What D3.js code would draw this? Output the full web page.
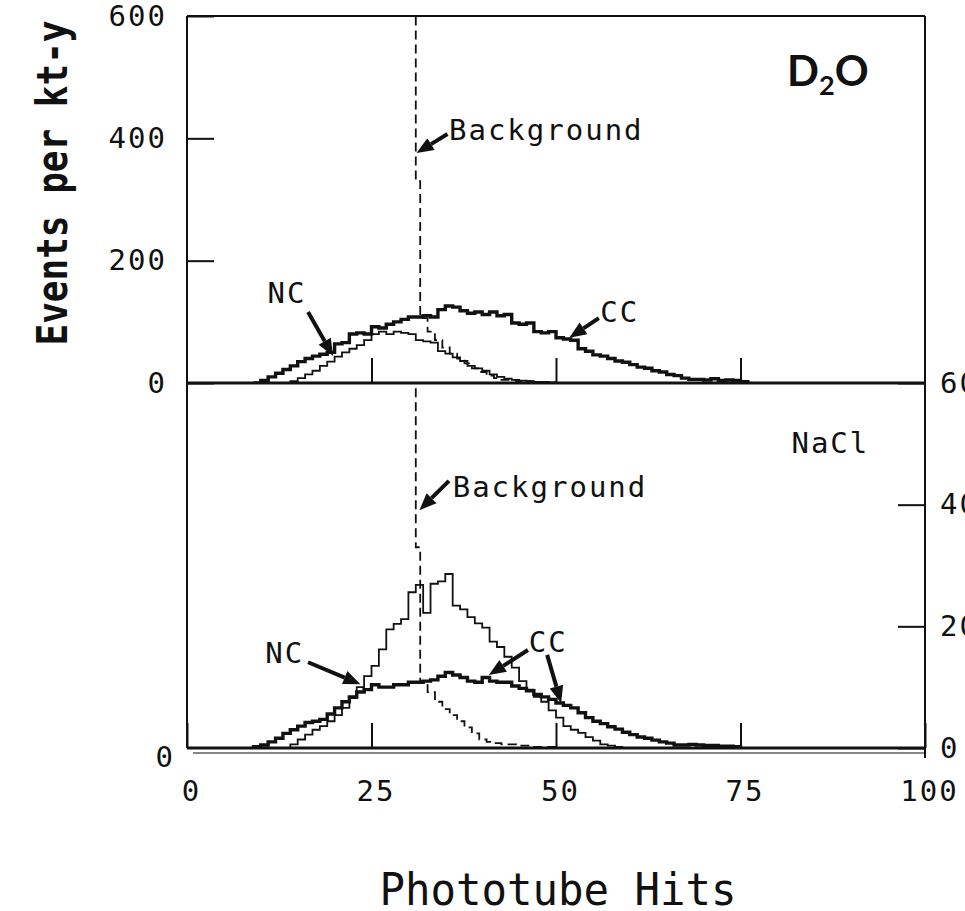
<!DOCTYPE html>
<html>
<head>
<meta charset="utf-8">
<script src="https://cdn.jsdelivr.net/npm/d3@7"></script>
<style>
  body { margin: 0; background: #fff; }
  svg { display: block; }
</style>
</head>
<body>
<script>
// Axis ticks
const hitTicks = [0, 25, 50, 75, 100];
const eventTicks = [0, 200, 400, 600];

// D2O panel: one value per phototube-hit bin, starting at the given hit
const ccTopStart = 9;
const ccTop = [0, 4, 10, 16, 22, 28, 35, 40, 44, 47, 50, 64, 66, 80, 82, 80, 92, 90, 96, 100,
  104, 108, 108, 110, 108, 120, 126, 124, 118, 114, 116, 112, 116, 110, 112, 98, 96, 98, 84, 82,
  84, 74, 72, 70, 56, 52, 46, 44, 40, 36, 34, 30, 26, 24, 20, 18, 14, 12, 8, 6,
  6, 5, 7, 4, 5, 4, 2];
const ncTopStart = 14;
const ncTop = [3, 8, 14, 20, 28, 35, 43, 50, 56, 62, 70, 80, 84, 80, 84, 82, 80, 70, 68, 66,
  52, 48, 42, 36, 28, 24, 20, 14, 10, 7, 5, 4, 3, 2, 2, 1];

// NaCl panel
const ccBotStart = 9;
const ccBot = [2, 5, 10, 16, 24, 30, 36, 42, 44, 47, 56, 66, 76, 84, 92, 96, 104, 100, 100, 104,
  104, 108, 108, 110, 112, 118, 124, 120, 116, 110, 108, 116, 110, 108, 108, 102, 98, 94, 88, 84,
  80, 74, 70, 66, 58, 50, 44, 40, 35, 31, 26, 22, 18, 16, 13, 10, 8, 5, 5, 6,
  5, 4, 4, 3, 3, 2];
const ncBotStart = 14;
const ncBot = [6, 14, 22, 30, 36, 44, 54, 66, 82, 100, 118, 135, 162, 195, 204, 212, 256, 268, 222, 270,
  274, 286, 234, 228, 215, 205, 198, 175, 166, 150, 132, 110, 96, 84, 76, 62, 50, 36, 30, 25,
  18, 12, 6, 4, 2];

// Background (dashed): bin left edges and values, off-scale below 31 hits
const bgHits = [20, 31, 31.6, 32.6, 33.6, 34.6, 35.6, 36.6, 37.6, 38.6, 39.6, 40.6, 41.6, 42.6, 44.6, 46.6];
const bgEnd = 50;
const bgTop = [2000, 330, 106, 84, 70, 58, 48, 40, 32, 24, 18, 12, 8, 5, 3, 1];
const bgBot = [2000, 330, 110, 92, 76, 64, 54, 44, 34, 24, 14, 10, 8, 6, 4, 2];

const mono = "'DejaVu Sans Mono', monospace";
const W = 965, H = 911;

const svg = d3.select("body").append("svg")
  .attr("width", W).attr("height", H);

// scales
const x = d3.scaleLinear().domain([0, 100]).range([187, 925]);
const yTop = d3.scaleLinear().domain([0, 600]).range([383, 16]);
const yBot = d3.scaleLinear().domain([0, 600]).range([748, 383]);

// clip paths for the panels
const defs = svg.append("defs");
defs.append("clipPath").attr("id", "clipTop").append("rect")
  .attr("x", x(0)).attr("y", yTop(600)).attr("width", x(100) - x(0)).attr("height", yTop(0) - yTop(600));
defs.append("clipPath").attr("id", "clipBot").append("rect")
  .attr("x", x(0)).attr("y", yBot(600)).attr("width", x(100) - x(0)).attr("height", yBot(0) - yBot(600));

function binPoints(start, vals) {
  const pts = [[start, 0]];
  vals.forEach((v, i) => pts.push([start + i, v]));
  pts.push([start + vals.length, 0]);
  return pts;
}
function edgePoints(edges, vals, end) {
  const pts = edges.map((e, i) => [e, vals[i]]);
  pts.push([end, 0]);
  return pts;
}

function drawPanel(y, clipId, cc, ccStart, nc, ncStart, bg) {
  const line = d3.line().x(d => x(d[0])).y(d => y(d[1])).curve(d3.curveStepAfter);
  const g = svg.append("g").attr("clip-path", `url(#${clipId})`);
  g.append("path").attr("d", line(edgePoints(bgHits, bg, bgEnd)))
    .attr("fill", "none").attr("stroke", "#111").attr("stroke-width", 1.8)
    .attr("stroke-dasharray", "9,5");
  g.append("path").attr("d", line(binPoints(ncStart, nc)))
    .attr("fill", "none").attr("stroke", "#111").attr("stroke-width", 1.8);
  g.append("path").attr("d", line(binPoints(ccStart, cc)))
    .attr("fill", "none").attr("stroke", "#111").attr("stroke-width", 3.4);
}

drawPanel(yTop, "clipTop", ccTop, ccTopStart, ncTop, ncTopStart, bgTop);
drawPanel(yBot, "clipBot", ccBot, ccBotStart, ncBot, ncBotStart, bgBot);

function styleAxis(g, size) {
  g.selectAll("text").attr("font-family", mono).attr("font-size", size)
    .attr("letter-spacing", 2).attr("fill", "#111");
  g.selectAll("line").attr("stroke", "#111").attr("stroke-width", 2);
  g.select(".domain").remove();
}

// top panel: left axis with inward ticks
svg.append("g").attr("transform", `translate(${x(0)},0)`)
  .call(d3.axisLeft(yTop).tickValues(eventTicks).tickSize(-27).tickPadding(20))
  .call(g => styleAxis(g, 29));

// bottom panel: right axis with inward ticks (labels run off the page, as in the scan)
svg.append("g").attr("transform", `translate(${x(100)},0)`)
  .call(d3.axisRight(yBot).tickValues(eventTicks).tickSize(-27).tickPadding(15))
  .call(g => styleAxis(g, 29));

// lone zero at bottom left
svg.append("g").attr("transform", `translate(${x(0)},9)`)
  .call(d3.axisLeft(yBot).tickValues([0]).tickSize(0).tickPadding(12))
  .call(g => styleAxis(g, 29));

// x ticks on both panels
svg.append("g").attr("transform", `translate(0,${yTop(0)})`)
  .call(d3.axisBottom(x).tickValues([25, 50, 75]).tickSize(-25).tickFormat(""))
  .call(g => styleAxis(g, 29));
svg.append("g").attr("transform", `translate(0,${yBot(0)})`)
  .call(d3.axisBottom(x).tickValues(hitTicks).tickSize(-25).tickPadding(32))
  .call(g => styleAxis(g, 29))
  .call(g => g.selectAll("text").attr("dx", 4));

// frame
const frame = svg.append("g").attr("stroke", "#111").attr("fill", "none");
frame.append("line").attr("x1", x(0)).attr("x2", x(100)).attr("y1", yTop(600)).attr("y2", yTop(600)).attr("stroke-width", 2);
frame.append("line").attr("x1", x(0)).attr("x2", x(0)).attr("y1", yTop(600)).attr("y2", yBot(0)).attr("stroke-width", 2);
frame.append("line").attr("x1", x(100)).attr("x2", x(100)).attr("y1", yTop(600)).attr("y2", yBot(0) + 10).attr("stroke-width", 2);
frame.append("line").attr("x1", x(0)).attr("x2", x(100)).attr("y1", yTop(0)).attr("y2", yTop(0)).attr("stroke-width", 3);
frame.append("line").attr("x1", x(0)).attr("x2", x(100)).attr("y1", yBot(0)).attr("y2", yBot(0)).attr("stroke-width", 3);
frame.append("line").attr("x1", x(0) + 6).attr("x2", x(100)).attr("y1", yBot(0) + 5).attr("y2", yBot(0) + 5).attr("stroke-width", 1.2);

// annotations: label text, label position, arrows (tail -> tip) in data units
const labelsTop = [
  { text: "Background", h: 35.5, v: 398 },
  { text: "NC", h: 10.9, v: 131 },
  { text: "CC", h: 56.0, v: 100 }
];
const arrowsTop = [
  { from: [35.3, 407], to: [31.1, 376] },
  { from: [16.4, 116], to: [19.8, 44] },
  { from: [55.8, 106], to: [51.8, 74] }
];
const labelsBot = [
  { text: "Background", h: 36.0, v: 413 },
  { text: "NaCl", h: 81.9, v: 485 },
  { text: "NC", h: 10.6, v: 140 },
  { text: "CC", h: 46.3, v: 158 }
];
const arrowsBot = [
  { from: [35.5, 439], to: [31.5, 391] },
  { from: [16.4, 141], to: [23.5, 105] },
  { from: [46.2, 161], to: [40.9, 120] },
  { from: [48.8, 153], to: [50.7, 74] }
];

function drawNotes(y, labels, arrows) {
  labels.forEach(d => {
    svg.append("text").attr("x", x(d.h)).attr("y", y(d.v))
      .attr("font-family", mono).attr("font-size", 29).attr("letter-spacing", 2)
      .attr("fill", "#111").text(d.text);
  });
  arrows.forEach(a => {
    const x0 = x(a.from[0]), y0 = y(a.from[1]);
    const x1 = x(a.to[0]), y1 = y(a.to[1]);
    const dx = x1 - x0, dy = y1 - y0, len = Math.hypot(dx, dy);
    const ux = dx / len, uy = dy / len;
    const hl = 17, hw = 7;
    const bx = x1 - ux * hl, by = y1 - uy * hl;
    svg.append("line").attr("x1", x0).attr("y1", y0).attr("x2", bx).attr("y2", by)
      .attr("stroke", "#111").attr("stroke-width", 4);
    svg.append("path")
      .attr("d", `M${x1},${y1}L${bx - uy * hw},${by + ux * hw}L${bx + uy * hw},${by - ux * hw}Z`)
      .attr("fill", "#111");
  });
}
drawNotes(yTop, labelsTop, arrowsTop);
drawNotes(yBot, labelsBot, arrowsBot);

// D2O tag
const tag = svg.append("text").attr("x", 787).attr("y", 86)
  .attr("font-family", "Lato, 'Open Sans', sans-serif").attr("font-weight", "bold")
  .attr("font-size", 42).attr("fill", "#111");
tag.append("tspan").text("D");
tag.append("tspan").attr("font-size", 27).attr("dy", 9).text("2");
tag.append("tspan").attr("dy", -9).text("O");

// axis titles
svg.append("text")
  .attr("transform", "translate(67,183) rotate(-90)")
  .attr("text-anchor", "middle")
  .attr("font-family", mono).attr("font-weight", "bold").attr("font-size", 42)
  .attr("textLength", 325).attr("lengthAdjust", "spacingAndGlyphs")
  .attr("fill", "#111")
  .text("Events per kt-y");

svg.append("text")
  .attr("x", 558).attr("y", 905)
  .attr("text-anchor", "middle")
  .attr("font-family", mono).attr("font-size", 44)
  .attr("textLength", 357).attr("lengthAdjust", "spacingAndGlyphs")
  .attr("fill", "#111")
  .text("Phototube Hits");
</script>
</body>
</html>
